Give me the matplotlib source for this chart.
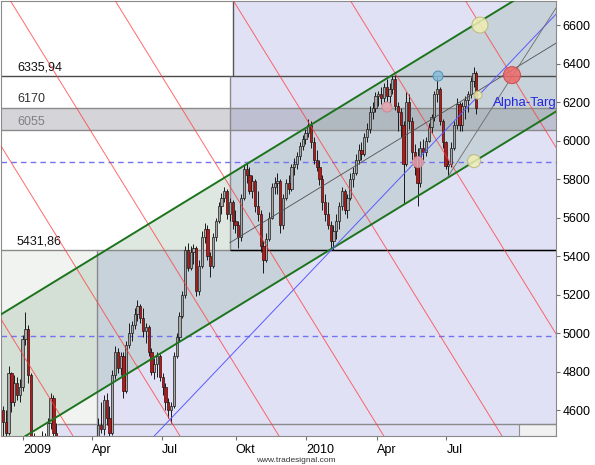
import numpy as np
import matplotlib
matplotlib.use("Agg")
import matplotlib.pyplot as plt
from matplotlib.patches import Rectangle

plt.rcParams['font.family'] = ['Liberation Sans', 'DejaVu Sans']

# half-weekly candles, Dec 2008 .. Aug 2010 (x = trading-day index)
first_open = 4600
close = [
    4540, 4480, 4790, 4640, 4740, 4680, 4720, 4970, 5020, 4780,
    4450, 4300, 4230, 4180, 4420, 4340, 4530, 4660, 4480, 4330,
    4150, 4050, 3950, 3850, 3700, 3670, 3720, 3950, 4050, 3980,
    4200, 4150, 3950, 4380, 4520, 4500, 4650, 4560, 4480, 4780,
    4900, 4820, 4880, 4700, 4940, 5000, 5040, 5100, 5140, 5080,
    5010, 5030, 4900, 4800, 4840, 4880, 4770, 4720, 4640, 4600,
    4620, 4880, 4980, 5090, 5200, 5430, 5340, 5420, 5440, 5220,
    5350, 5500, 5540, 5400, 5350, 5500, 5580, 5660, 5700, 5740,
    5620, 5680, 5580, 5560, 5500, 5700, 5850, 5820, 5740, 5790,
    5660, 5620, 5450, 5380, 5490, 5600, 5760, 5780, 5790, 5560,
    5700, 5780, 5750, 5860, 5880, 5920, 5970, 6010, 6040, 6080,
    5990, 5900, 5860, 5800, 5680, 5620, 5560, 5480, 5530, 5580,
    5660, 5740, 5640, 5700, 5800, 5830, 5900, 5950, 5930, 6020,
    6060, 6150, 6170, 6230, 6240, 6220, 6280, 6230, 6270, 6320,
    6180, 6150, 6080, 5880, 6200, 6100, 5940, 5860, 5780, 5960,
    5940, 6000, 6070, 6120, 6240, 6270, 6100, 5990, 5870, 5880,
    5960, 6080, 6190, 6080, 6180, 6210, 6240, 6310, 6350, 6170,
]
high = [
    4620, 4600, 4830, 4800, 4780, 4770, 4760, 4990, 5111, 5040,
    4790, 4480, 4380, 4320, 4490, 4480, 4560, 4690, 4680, 4530,
    4330, 4200, 4100, 4000, 3850, 3750, 3800, 4000, 4100, 4100,
    4250, 4260, 4150, 4420, 4560, 4640, 4680, 4690, 4620, 4810,
    4930, 4920, 4900, 4900, 4960, 5050, 5060, 5130, 5170, 5150,
    5130, 5050, 5040, 4920, 4870, 4900, 4890, 4790, 4740, 4660,
    4640, 4900, 5000, 5110, 5220, 5450, 5470, 5450, 5460, 5450,
    5380, 5530, 5570, 5560, 5420, 5520, 5600, 5680, 5730, 5760,
    5750, 5700, 5690, 5640, 5580, 5720, 5880, 5885, 5860, 5820,
    5800, 5740, 5640, 5480, 5520, 5630, 5780, 5810, 5830, 5800,
    5720, 5800, 5820, 5880, 5910, 5940, 5990, 6030, 6060, 6110,
    6100, 6020, 5950, 5900, 5820, 5720, 5680, 5580, 5560, 5620,
    5680, 5760, 5750, 5720, 5830, 5860, 5930, 5980, 5990, 6040,
    6090, 6180, 6200, 6250, 6260, 6280, 6300, 6320, 6300, 6336,
    6341, 6200, 6170, 6100, 6250, 6240, 6120, 5980, 5960, 6000,
    6010, 6020, 6090, 6140, 6260, 6330, 6280, 6110, 6000, 5900,
    5990, 6100, 6220, 6200, 6200, 6230, 6260, 6330, 6382, 6360,
]
low = [
    4380, 4420, 4470, 4590, 4620, 4650, 4640, 4700, 4940, 4740,
    4420, 4250, 4200, 4150, 4170, 4300, 4290, 4500, 4450, 4300,
    4100, 3980, 3900, 3800, 3650, 3590, 3620, 3700, 3900, 3900,
    3960, 4100, 3900, 3940, 4370, 4480, 4470, 4520, 4430, 4470,
    4760, 4790, 4780, 4660, 4690, 4920, 4960, 5020, 5060, 5050,
    4980, 4950, 4880, 4780, 4760, 4770, 4750, 4680, 4600, 4560,
    4530, 4610, 4870, 4960, 5080, 5180, 5320, 5330, 5360, 5190,
    5200, 5340, 5470, 5380, 5290, 5340, 5480, 5570, 5620, 5680,
    5590, 5580, 5540, 5520, 5440, 5480, 5690, 5780, 5720, 5700,
    5630, 5580, 5420, 5310, 5370, 5480, 5590, 5720, 5720, 5520,
    5540, 5690, 5720, 5740, 5820, 5850, 5900, 5950, 5980, 6020,
    5960, 5880, 5840, 5770, 5640, 5580, 5540, 5440, 5432, 5490,
    5540, 5640, 5620, 5600, 5690, 5760, 5820, 5880, 5900, 5920,
    5990, 6040, 6110, 6150, 6180, 6190, 6200, 6200, 6180, 6240,
    6160, 6050, 6020, 5675, 5870, 6060, 5900, 5820, 5660, 5760,
    5900, 5920, 5990, 6040, 6100, 6200, 6080, 5960, 5850, 5815,
    5860, 5950, 6060, 6050, 6050, 6110, 6150, 6220, 6280, 6140,
]

month_labels = ["2009", "Apr", "Jul", "Okt", "2010", "Apr", "Jul"]
month_bar = [19, 81, 143, 209, 272, 335, 397]
y_ticks = [4600, 4800, 5000, 5200, 5400, 5600, 5800, 6000, 6200, 6400, 6600]

# horizontal levels drawn on the chart
level_top = 6335.94
level_mid_hi = 6170
level_mid_lo = 6055
level_low = 5431.86
dashed_levels = [5890, 4985]

# drawing tools: channel, fan lines, time lines
chan_slope = 3.56
chan_upper0 = 5099
chan_lower0 = 4389
red_slope = -9.43
red_top_price = 6730
red_top_bar = [-176.5, -81, 7.4, 101, 206.5, 311, 413.7]
blue_anchor = (150.3, 4551)
blue_slope = 6.11
gray_anchor = (397.6, 5805)
gray_slope = 9.08

# marker circles
circle_bar = [455.6, 427.0, 421.7, 425.3, 389.6, 344.0, 371.7]
circle_price = [6340, 6600, 5893, 6236, 6335, 6174, 5888]
circle_diam = [17, 16, 13, 8, 10, 10, 11]
circle_face = ['#ee6a6a', '#efefb4', '#efefb4', '#efefb4', '#86bcd9', '#e6a2ac', '#e6a2ac']
circle_edge = ['#c84848', '#b8b878', '#b8b878', '#b8b878', '#4f8db2', '#cf8794', '#cf8794']

xmin, xmax = -0.6, 494.9
ymin, ymax = 4465, 6725

fig = plt.figure(figsize=(5.95, 4.65), dpi=100)
ax = fig.add_axes([1 / 595, 29 / 465, 555 / 595, 435 / 465])
ax.set_xlim(xmin, xmax)
ax.set_ylim(ymin, ymax)
ax.set_facecolor('#e1e1f6')

# background boxes
ax.add_patch(Rectangle((xmin, level_top), 206.5 - xmin, ymax - level_top,
                       facecolor='white', edgecolor='none', zorder=0.1))
ax.add_patch(Rectangle((xmin, level_low), 203.8 - xmin, level_top - level_low,
                       facecolor='white', edgecolor='none', zorder=0.1))
ax.add_patch(Rectangle((xmin, 4527), 85.1 - xmin, level_low - 4527,
                       facecolor='#f1f3f1', edgecolor='none', zorder=0.1))
ax.add_patch(Rectangle((xmin, ymin), 49.4 - xmin, 4527 - ymin,
                       facecolor='#f1f3f1', edgecolor='none', zorder=0.1))
ax.add_patch(Rectangle((462, ymin), xmax - 462, 4527 - ymin,
                       facecolor='#f1f1f1', edgecolor='#909090', lw=0.8, zorder=0.2))

# grey band
ax.axhspan(level_mid_lo, level_mid_hi, color='#5a5a6a', alpha=0.25, lw=0, zorder=0.3)

# channel
xs = np.array([xmin, xmax])
ax.fill_between(xs, chan_lower0 + chan_slope * xs, chan_upper0 + chan_slope * xs,
                color='#88aa90', alpha=0.27, lw=0, zorder=0.4)

# lines of the boxes
ax.axhline(level_top, color='#4a4a4a', lw=1, zorder=1)
ax.axhline(level_mid_hi, color='#8a8a8a', lw=1, zorder=1)
ax.axhline(level_mid_lo, color='#8a8a8a', lw=1, zorder=1)
ax.axhline(level_low, color='#8a8a8a', lw=1, zorder=1)
ax.hlines(level_low, 203.8, xmax, color='black', lw=1, zorder=1.1)
ax.hlines(4527, 49.4, xmax, color='#8a8a8a', lw=1, zorder=1)
ax.vlines(206.5, level_top, ymax, color='#555555', lw=1, zorder=1)
ax.vlines(203.8, level_low, level_top, color='#8a8a8a', lw=1, zorder=1)
ax.vlines(85.1, ymin, level_low, color='#8a8a8a', lw=1, zorder=1)
for lv in dashed_levels:
    ax.axhline(lv, color='#7272f2', lw=1, dashes=(4, 3), zorder=1)

# candles
bx = 1.25 + 2.5 * np.arange(len(close))
opn = np.array([first_open] + close[:-1])
cls = np.array(close)
up = cls >= opn
ax.vlines(bx, low, high, color='#1a1a1a', lw=0.7, zorder=3)
ax.bar(bx[up], (cls - opn)[up], bottom=opn[up], width=2.1,
       color='#a9a9a9', edgecolor='#1a1a1a', lw=0.5, zorder=3.1)
ax.bar(bx[~up], (opn - cls)[~up], bottom=cls[~up], width=2.1,
       color='#cc1010', edgecolor='#1a1a1a', lw=0.5, zorder=3.1)

# tool lines
for b in red_top_bar:
    ax.axline((b, red_top_price), slope=red_slope, color='#ff3a3a', lw=0.7, alpha=0.75, zorder=4)
ax.plot(xs, chan_upper0 + chan_slope * xs, color='#1c741c', lw=1.4, zorder=4)
ax.plot(xs, chan_lower0 + chan_slope * xs, color='#1c741c', lw=1.4, zorder=4)
mx = np.array([203.8, xmax])
ax.plot(mx, (chan_upper0 + chan_lower0) / 2 + chan_slope * mx, color='#505050', lw=0.6, zorder=4)
ax.axline(blue_anchor, slope=blue_slope, color='#5a5aff', lw=0.7, zorder=4)
gx = np.array([gray_anchor[0], xmax])
ax.plot(gx, gray_anchor[1] + gray_slope * (gx - gray_anchor[0]), color='#6a6a6a', lw=0.6, zorder=4)

ax.scatter(circle_bar, circle_price, s=[(d * 0.72) ** 2 for d in circle_diam],
           c=circle_face, edgecolors=circle_edge, linewidths=0.8, alpha=0.85, zorder=5)

# texts
tr = ax.get_yaxis_transform()
lab_x = 16 / 555
ax.annotate("6335,94", (lab_x, level_top), xycoords=tr, xytext=(0, 2), textcoords='offset points',
            fontsize=9, va='bottom', color='#111111')
ax.annotate("6170", (lab_x, level_mid_hi), xycoords=tr, xytext=(0, 2), textcoords='offset points',
            fontsize=9, va='bottom', color='#333333')
ax.annotate("6055", (lab_x, level_mid_lo), xycoords=tr, xytext=(0, 1.5), textcoords='offset points',
            fontsize=9, va='bottom', color='#808080')
ax.annotate("5431,86", (lab_x, level_low), xycoords=tr, xytext=(0, 2), textcoords='offset points',
            fontsize=9, va='bottom', color='#111111')
# label is cut off by the plot edge in the original
ax.text(438.7, 6195, "Alpha-Targ", color='#2525e0', fontsize=9.5, va='center', clip_on=True, zorder=6)

fig.text(296 / 595, 5 / 465, "www.tradesignal.com", fontsize=6, ha='center', va='center', color='#333333')

# axes
ax.yaxis.tick_right()
ax.set_yticks(y_ticks)
ax.set_yticklabels([str(v) for v in y_ticks])
ax.tick_params(axis='y', direction='out', length=3, pad=1.5, labelsize=9, color='#707070')
ax.set_xticks(month_bar)
ax.set_xticklabels(month_labels, ha='left')
ax.tick_params(axis='x', direction='out', length=3, pad=3, labelsize=9, color='#707070')
for s in ax.spines.values():
    s.set_color('#8a8a8a')

fig.savefig('out.png', dpi=100)
